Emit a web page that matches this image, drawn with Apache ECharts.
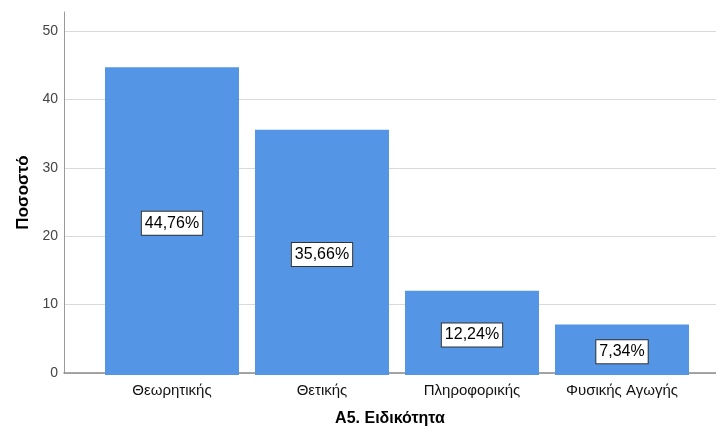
<!DOCTYPE html>
<html>
<head>
<meta charset="utf-8">
<script src="https://cdn.jsdelivr.net/npm/echarts@6/dist/echarts.min.js"></script>
<style>
  html, body { margin: 0; padding: 0; background: #fff; }
  #chart { width: 716px; height: 432px; }
</style>
</head>
<body>
<div id="chart"></div>
<script>
const categories = ["Θεωρητικής", "Θετικής", "Πληροφορικής", "Φυσικής Αγωγής"];
const percents = [44.76, 35.66, 12.24, 7.34];
const yTicks = [0, 10, 20, 30, 40, 50];

const font = "Liberation Sans, Arial, sans-serif";
const yTop = 52.8; // axis runs a bit past the last tick

const chart = echarts.init(document.getElementById("chart"));

const option = {
  animation: false,
  textStyle: { fontFamily: font },
  grid: [
    // frame: y axis, gridlines, baseline
    { left: 64, right: 0, top: 12, bottom: 57 },
    // bars and category labels
    { left: 97, right: 19, top: 12, bottom: 57 }
  ],
  xAxis: [
    {
      gridIndex: 0,
      type: "value",
      min: 0,
      max: 1,
      name: "A5. Ειδικότητα",
      nameLocation: "middle",
      nameGap: 38,
      nameTextStyle: { fontSize: 16, fontWeight: "bold", color: "#000", fontFamily: font },
      axisLine: { show: true, z: 5, lineStyle: { color: "#8c8c8c", width: 1.5 } },
      axisTick: { show: false },
      axisLabel: { show: false },
      splitLine: { show: false }
    },
    {
      gridIndex: 1,
      type: "category",
      data: categories,
      axisLine: { show: false },
      axisTick: { show: false },
      axisLabel: { margin: 8, fontSize: 15, color: "#111", fontFamily: font }
    }
  ],
  yAxis: [
    {
      gridIndex: 0,
      type: "value",
      min: yTicks[0],
      max: yTop,
      interval: 10,
      name: "Ποσοστό",
      nameLocation: "middle",
      nameGap: 31,
      nameTextStyle: { fontSize: 17, fontWeight: "bold", color: "#000", fontFamily: font },
      axisLine: { show: true, lineStyle: { color: "#9a9a9a", width: 1 } },
      axisTick: { show: false },
      axisLabel: {
        margin: 6,
        fontSize: 14,
        color: "#444",
        fontFamily: font,
        showMaxLabel: false,
        formatter: v => (yTicks.indexOf(v) >= 0 ? String(v) : "")
      },
      splitLine: { show: true, showMaxLine: false, lineStyle: { color: "#d9d9d9", width: 1 } }
    },
    {
      gridIndex: 1,
      type: "value",
      min: yTicks[0],
      max: yTop,
      show: false,
      splitLine: { show: false }
    }
  ],
  series: [
    {
      type: "bar",
      xAxisIndex: 1,
      yAxisIndex: 1,
      data: percents,
      barWidth: 134,
      itemStyle: { color: "#5595e5" },
      label: {
        show: true,
        position: "inside",
        offset: [0, 2],
        formatter: p => p.value.toFixed(2).replace(".", ",") + "%",
        fontSize: 16,
        color: "#000",
        fontFamily: font,
        backgroundColor: "#fff",
        borderColor: "#333",
        borderWidth: 1,
        padding: [4, 3, 3, 3]
      }
    }
  ]
};

chart.setOption(option);
</script>
</body>
</html>
